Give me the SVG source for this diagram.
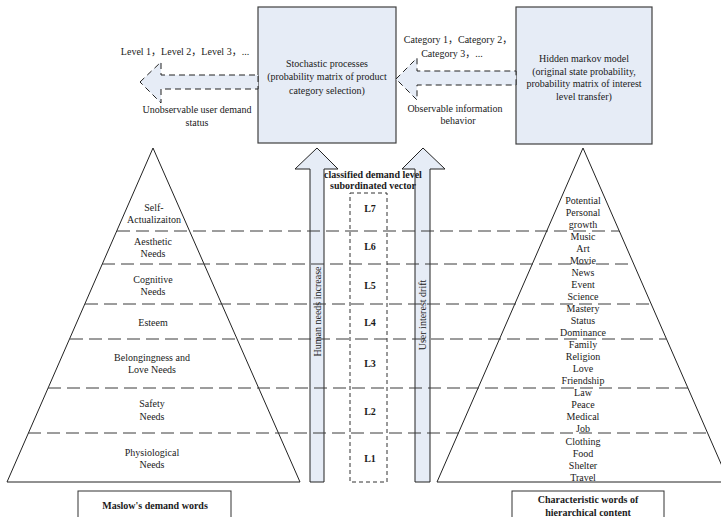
<svg xmlns="http://www.w3.org/2000/svg" width="721" height="517" viewBox="0 0 721 517">
<style>
text{font-family:"Liberation Serif","Noto Sans CJK SC",serif;font-size:10px;fill:#1a1a1a;text-anchor:middle}
.b{font-weight:bold}
.box{fill:#E6ECF6;stroke:#404040;stroke-width:1.2}
.arr{fill:#E6ECF6;stroke:#222;stroke-width:1}
.darr{fill:#E6ECF6;stroke:#222;stroke-width:1;stroke-dasharray:6 4}
.pyr{fill:none;stroke:#222;stroke-width:1}
.lvl{stroke:#3a3a3a;stroke-width:1;stroke-dasharray:13 6;fill:none}
.lbox{fill:none;stroke:#333;stroke-width:1;stroke-dasharray:4 3}
.wbox{fill:#fff;stroke:#333;stroke-width:1}
</style>
<rect width="721" height="517" fill="#fff"/>

<g id="stochastic">
<rect class="box" x="258" y="7" width="138" height="136"/>
<text x="327" y="66.5">Stochastic processes</text>
<text x="327" y="80">(probability matrix of product</text>
<text x="327" y="93.5">category selection)</text>
</g>

<g id="hmm">
<rect class="box" x="516" y="7" width="136" height="137"/>
<text x="584" y="61.5">Hidden markov model</text>
<text x="584" y="75">(original state probability,</text>
<text x="584" y="87">probability matrix of interest</text>
<text x="584" y="100">level transfer)</text>
</g>

<g id="connectors">
<polygon class="darr" points="140,82 161,62 161,75 258,75 258,89 161,89 161,103"/>
<polygon class="darr" points="396,79 417,58 417,71 516,71 516,85 417,85 417,100"/>
<polygon class="arr" points="317,148 338,169 324,169 324,482 310,482 310,169 295,169"/>
<polygon class="arr" points="423,148 445,169 430,169 430,482 415,482 415,169 402,169"/>
<text transform="translate(321,311.5) rotate(-90)">Human needs increase</text>
<text transform="translate(426,315) rotate(-90)">User interest drift</text>
</g>

<g id="arrow-labels">
<text x="185" y="54.5">Level 1，Level 2，Level 3，...</text>
<text x="197" y="112.5">Unobservable user demand</text>
<text x="197" y="125.5">status</text>
<text x="458" y="42.5">Category 1，Category 2，</text>
<text x="452" y="56.5">Category 3，...</text>
<text x="455" y="111.5">Observable information</text>
<text x="458" y="123.5">behavior</text>
</g>

<g id="maslow-pyramid">
<polygon class="pyr" points="7,482 153,148 300,482"/>
<text x="154" y="210.5">Self-</text>
<text x="154" y="222.5">Actualizaiton</text>
<text x="153" y="244.5">Aesthetic</text>
<text x="153" y="256.5">Needs</text>
<text x="153" y="282.5">Cognitive</text>
<text x="153" y="294.5">Needs</text>
<text x="153" y="325.5">Esteem</text>
<text x="152" y="360.5">Belongingness and</text>
<text x="152" y="372.5">Love Needs</text>
<text x="152" y="406.5">Safety</text>
<text x="152" y="419.5">Needs</text>
<text x="152" y="455.5">Physiological</text>
<text x="152" y="467.5">Needs</text>
</g>

<g id="level-vector">
<rect class="lbox" x="350" y="193" width="37" height="289"/>
<text class="b" x="373" y="177.5">classified demand level</text>
<text class="b" x="373" y="188.5">subordinated vector</text>
<text class="b" x="370" y="211.5">L7</text>
<text class="b" x="370" y="249.5">L6</text>
<text class="b" x="370" y="288.5">L5</text>
<text class="b" x="370" y="325.5">L4</text>
<text class="b" x="370" y="366.5">L3</text>
<text class="b" x="370" y="414.5">L2</text>
<text class="b" x="370" y="461.5">L1</text>
</g>

<g id="content-pyramid">
<polyline class="pyr" points="437,482 583,148 729,482"/>
<line class="pyr" x1="437" y1="482" x2="721" y2="482"/>
<text x="583" y="203.5">Potential</text>
<text x="583" y="215.5">Personal</text>
<text x="583" y="227.6">growth</text>
<text x="583" y="239.6">Music</text>
<text x="583" y="251.7">Art</text>
<text x="583" y="263.7">Movie</text>
<text x="583" y="275.8">News</text>
<text x="583" y="287.8">Event</text>
<text x="583" y="299.9">Science</text>
<text x="583" y="311.9">Mastery</text>
<text x="583" y="324">Status</text>
<text x="583" y="336">Dominance</text>
<text x="583" y="348.1">Family</text>
<text x="583" y="360.1">Religion</text>
<text x="583" y="372.2">Love</text>
<text x="583" y="384.2">Friendship</text>
<text x="583" y="396.3">Law</text>
<text x="583" y="408.3">Peace</text>
<text x="583" y="420.4">Medical</text>
<text x="583" y="432.4">Job</text>
<text x="583" y="444.5">Clothing</text>
<text x="583" y="456.5">Food</text>
<text x="583" y="468.6">Shelter</text>
<text x="583" y="480.6">Travel</text>
</g>

<g id="level-lines">
<line class="lvl" x1="117" y1="231" x2="619" y2="231"/>
<line class="lvl" x1="102" y1="264" x2="634" y2="264"/>
<line class="lvl" x1="85" y1="304" x2="651" y2="304"/>
<line class="lvl" x1="70" y1="339" x2="666" y2="339"/>
<line class="lvl" x1="48" y1="388" x2="688" y2="388"/>
<line class="lvl" x1="28" y1="433" x2="708" y2="433"/>
</g>

<g id="maslow-words">
<rect class="wbox" x="78" y="491" width="153" height="40"/>
<text class="b" x="155" y="508.5">Maslow's demand words</text>
</g>

<g id="content-words">
<rect class="wbox" x="512" y="491" width="152" height="40"/>
<text class="b" x="588" y="502.5">Characteristic words of</text>
<text class="b" x="588" y="515.5">hierarchical content</text>
</g>
</svg>
